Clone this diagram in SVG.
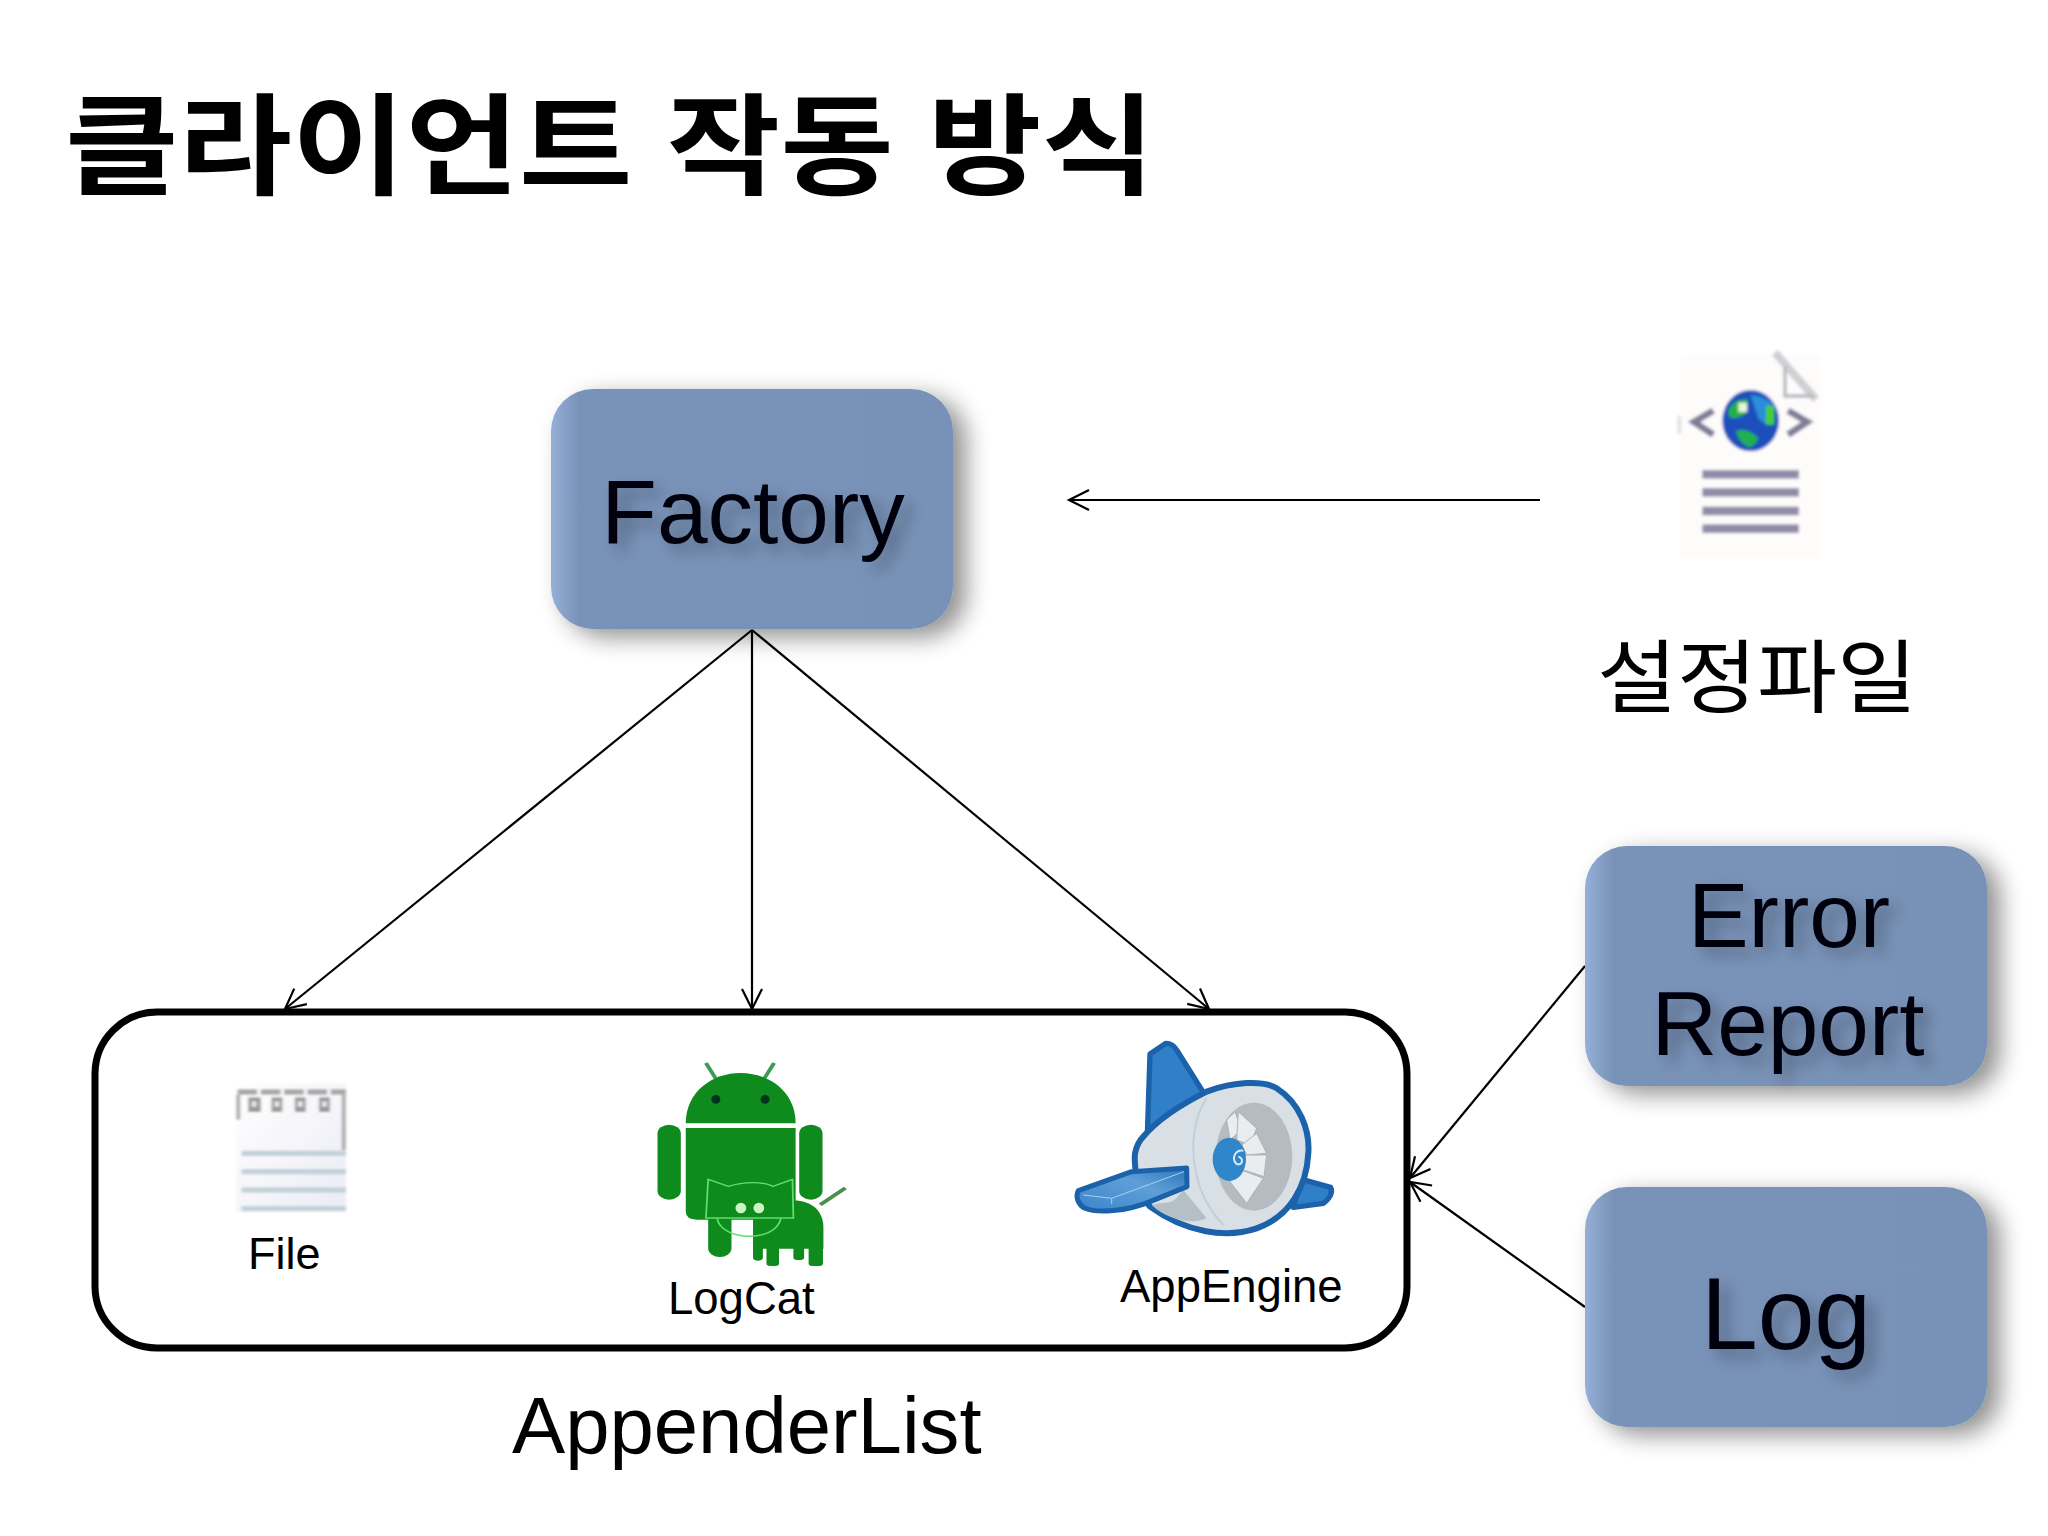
<svg xmlns="http://www.w3.org/2000/svg" width="2048" height="1536" viewBox="0 0 2048 1536">
<style>
.lat{font-family:"Liberation Sans","Noto Sans CJK KR",sans-serif;fill:#000}
.kr{font-family:"Liberation Sans","Noto Sans CJK KR",sans-serif;fill:#000}
.big{font-size:91px;text-anchor:middle;filter:url(#ts);fill:#02060e}
.small{font-size:45.5px}
.conn{stroke:#000;stroke-width:2.2;fill:none;marker-end:url(#open)}
.green{fill:#0f8a1d}
.cut{stroke:#5ee06c;stroke-width:4;fill:none}
.rim{stroke:#1c62ab;stroke-linejoin:round}
.blade{fill:#e9edf0;stroke:#aab3b9;stroke-width:3}
</style>
<defs>
<marker id="open" markerUnits="userSpaceOnUse" markerWidth="30" markerHeight="30" refX="22" refY="12" orient="auto"><path d="M2,2 L22,12 L2,22" fill="none" stroke="#000" stroke-width="2.2"/></marker>
<filter id="shadow" x="-15%" y="-15%" width="140%" height="145%"><feGaussianBlur in="SourceAlpha" stdDeviation="12"/><feOffset dx="13" dy="8"/><feComponentTransfer><feFuncA type="linear" slope=".44"/></feComponentTransfer><feMerge><feMergeNode/><feMergeNode in="SourceGraphic"/></feMerge></filter>
<filter id="ts" x="-10%" y="-20%" width="125%" height="150%"><feGaussianBlur in="SourceAlpha" stdDeviation="8"/><feOffset dx="9" dy="8"/><feComponentTransfer><feFuncA type="linear" slope=".3"/></feComponentTransfer><feMerge><feMergeNode/><feMergeNode in="SourceGraphic"/></feMerge></filter>
<filter id="mild" x="-10%" y="-10%" width="120%" height="120%"><feGaussianBlur stdDeviation="4"/></filter>
<filter id="mild2" x="-10%" y="-10%" width="120%" height="120%"><feGaussianBlur stdDeviation="3.5 3"/></filter>
<linearGradient id="edge" x1="0" x2="1" y1="0" y2="0"><stop offset="0" stop-color="#96afd6"/><stop offset=".07" stop-color="#7992b8"/><stop offset="1" stop-color="#7892b7"/></linearGradient>
<linearGradient id="wing" x1="0" x2="1" y1="1" y2="0"><stop offset="0" stop-color="#3a85cb"/><stop offset=".6" stop-color="#5f9fd8"/><stop offset="1" stop-color="#2a74bb"/></linearGradient>
<linearGradient id="page" x1="0" x2="1" y1="0" y2="1"><stop offset="0" stop-color="#ffffff"/><stop offset="1" stop-color="#ebebf5"/></linearGradient>
<rect id="box" width="402" height="240" rx="42" fill="url(#edge)"/>
</defs>
<rect width="2048" height="1536" fill="#fff"/>
<text id="title" class="kr" transform="translate(65 186) scale(.995 .89)" font-size="124" font-weight="700">클라이언트 작동 방식</text>
<g id="connectors">
<line class="conn" x1="1540" y1="500" x2="1069" y2="500"/>
<line class="conn" x1="752" y1="630" x2="285" y2="1009"/>
<line class="conn" x1="752" y1="630" x2="752" y2="1009"/>
<line class="conn" x1="752" y1="630" x2="1209" y2="1009"/>
<line class="conn" x1="1585" y1="966" x2="1410" y2="1178"/>
<line class="conn" x1="1585" y1="1307" x2="1410" y2="1182"/>
</g>
<g id="factory"><use href="#box" x="551" y="389" filter="url(#shadow)"/><text class="lat big" x="753" y="543">Factory</text></g>
<g id="error-report"><use href="#box" x="1585" y="846" filter="url(#shadow)"/><text class="lat big" x="1789" y="947">Error</text><text class="lat big" x="1788" y="1055">Report</text></g>
<g id="log"><use href="#box" x="1585" y="1187" filter="url(#shadow)"/><text class="lat big" x="1786" y="1349" style="font-size:102px">Log</text></g>
<g id="config">
<g transform="translate(1660 340) scale(.3333)" filter="url(#mild)">
<rect x="60" y="45" width="420" height="610" fill="#fefcfb"/>
<path d="M345,38 L468,178" stroke="#cfcfd4" stroke-width="24" fill="none"/>
<path d="M375,80 L375,168 L460,168" stroke="#b5b5bd" stroke-width="10" fill="none"/>
<rect x="52" y="228" width="12" height="52" fill="#e2e2e2"/>
<path d="M160,212 L102,246 L160,284" stroke="#7d7d96" stroke-width="20" fill="none"/>
<path d="M384,212 L442,246 L384,284" stroke="#7d7d96" stroke-width="20" fill="none"/>
<ellipse cx="272" cy="242" rx="85" ry="92" fill="#1e50bc"/>
<path d="M205,210 Q225,175 262,178 L262,215 Q235,240 208,232Z" fill="#22b04a"/><rect x="235" y="188" width="26" height="28" fill="#e8f7d8"/>
<path d="M272,165 Q320,170 345,200 L320,255 L295,235Z" fill="#2a8fd8"/>
<rect x="318" y="198" width="24" height="56" fill="#45cf2a"/>
<path d="M228,272 Q265,262 295,295 Q285,320 265,322 Q235,305 228,272Z" fill="#20b050"/>
<rect x="127" y="390" width="290" height="26" fill="#8f8ba8"/><rect x="127" y="444" width="290" height="26" fill="#8f8ba8"/><rect x="127" y="500" width="290" height="26" fill="#8f8ba8"/><rect x="127" y="553" width="290" height="26" fill="#8f8ba8"/>
</g>
<text class="kr" transform="translate(1597 706) scale(1 .92)" font-size="87">설정파일</text>
</g>
<g id="appender-list">
<rect x="95" y="1012" width="1312" height="336" rx="62" fill="#fff" stroke="#000" stroke-width="7"/>
<text class="lat" x="512" y="1453" font-size="79.7">AppenderList</text>
</g>
<g id="file">
<g transform="translate(198 1038) scale(.4484 .3333)" filter="url(#mild2)">
<rect x="85" y="135" width="245" height="385" fill="url(#page)"/>
<path d="M88,162H330" stroke="#a9a9a9" stroke-width="16" stroke-dasharray="44 8"/>
<path d="M90,170V245M325,170V336" stroke="#a5a5a5" stroke-width="8"/>
<g fill="#9a9a9a"><rect x="112" y="178" width="28" height="44"/><rect x="164" y="178" width="24" height="44"/><rect x="216" y="178" width="24" height="44"/><rect x="270" y="178" width="24" height="44"/></g>
<g fill="#eee"><rect x="120" y="190" width="10" height="16"/><rect x="171" y="190" width="10" height="16"/><rect x="223" y="190" width="10" height="16"/><rect x="277" y="190" width="10" height="16"/></g>
<g fill="#c2d1d9"><rect x="97" y="338" width="233" height="16"/><rect x="97" y="393" width="233" height="16"/><rect x="97" y="448" width="233" height="16"/><rect x="97" y="504" width="233" height="16"/></g>
</g>
<text class="lat small" x="248" y="1269" style="font-size:45px">File</text>
</g>
<g id="logcat">
<g transform="translate(197 1038) scale(.4484 .3333)">
<path d="M1157,122L1135,75M1265,122L1287,75" stroke="#3f9a55" stroke-width="9" fill="none"/>
<path class="green" d="M1090,256C1090,160 1150,105 1212,105C1275,105 1335,160 1335,256Z"/>
<ellipse cx="1157" cy="184" rx="10" ry="13" fill="#032"/><ellipse cx="1267" cy="184" rx="10" ry="13" fill="#032"/>
<path class="green" d="M1090,270H1335V520Q1335,545 1310,545H1115Q1090,545 1090,520Z"/>
<rect class="green" x="1027" y="260" width="52" height="225" rx="26"/>
<rect class="green" x="1343" y="260" width="52" height="225" rx="26"/>
<rect class="green" x="1140" y="520" width="52" height="137" rx="26"/>
<path d="M1390,500L1446,450" stroke="#4b8f4f" stroke-width="10"/>
<path class="green" d="M1280,500C1350,468 1397,500 1397,570V632H1240V540Z"/>
<rect class="green" x="1240" y="610" width="22" height="58" rx="10"/>
<rect class="green" x="1270" y="610" width="28" height="74" rx="8"/>
<rect class="green" x="1330" y="610" width="24" height="56" rx="8"/>
<rect class="green" x="1364" y="610" width="32" height="74" rx="8"/>
<path class="green cut" d="M1140,424L1185,445C1220,430 1262,430 1285,445L1328,424L1330,540H1135Z"/>
<path class="green cut" d="M1160,542C1170,610 1290,615 1302,542"/>
<ellipse cx="1213" cy="510" rx="12" ry="16" fill="#c9f7c4"/><ellipse cx="1253" cy="510" rx="12" ry="16" fill="#c9f7c4"/>
</g>
<text class="lat small" x="668" y="1314">LogCat</text>
</g>
<g id="appengine">
<g transform="translate(1060 1030) scale(.3333)">
<path class="rim" d="M270,72L318,40Q338,40 350,60L432,190L262,315Z" fill="#2f80c8" stroke-width="16"/>
<path class="rim" d="M725,448L812,472Q822,495 790,520L700,532Z" fill="#2f80c8" stroke-width="16"/>
<path class="rim" d="M250,320C300,260 390,210 440,185C520,155 610,150 650,175C720,220 750,300 745,370C740,470 690,560 590,595C500,625 380,610 270,530C240,500 220,430 225,370C230,345 240,330 250,320Z" fill="#d9e0e5" stroke-width="18"/>
<path d="M275,525C340,510 330,530 370,480L440,565C400,585 320,570 275,525Z" fill="#b5bfc6"/>
<path d="M440,205C380,290 380,470 490,585" stroke="#c4ced5" stroke-width="6" fill="none"/>
<ellipse cx="582" cy="380" rx="115" ry="162" fill="#b4bcc2"/>
<path class="blade" d="M500,270L525,245L545,300L510,330Z"/>
<path class="blade" d="M535,245L590,295L570,345L530,330Z"/>
<path class="blade" d="M590,310L620,370L560,375L545,345Z"/>
<path class="blade" d="M620,375L612,440L550,420L555,375Z"/>
<path class="blade" d="M610,445L560,520L510,455L545,420Z"/>
<ellipse cx="508" cy="388" rx="50" ry="65" fill="#2f86c8"/>
<path d="M550,362C525,358 515,385 528,400C545,412 555,385 535,380" stroke="#d5ebf8" stroke-width="6" fill="none"/>
<path class="rim" d="M55,482L215,425L380,414L381,470L270,515C200,545 110,550 75,535C55,525 45,500 55,482Z" fill="url(#wing)" stroke-width="15"/>
<path d="M70,495L155,505L372,425M155,505L155,522" stroke="#a9d2ee" stroke-width="3" fill="none"/>
</g>
<text class="lat small" x="1120" y="1302">AppEngine</text>
</g>
</svg>
